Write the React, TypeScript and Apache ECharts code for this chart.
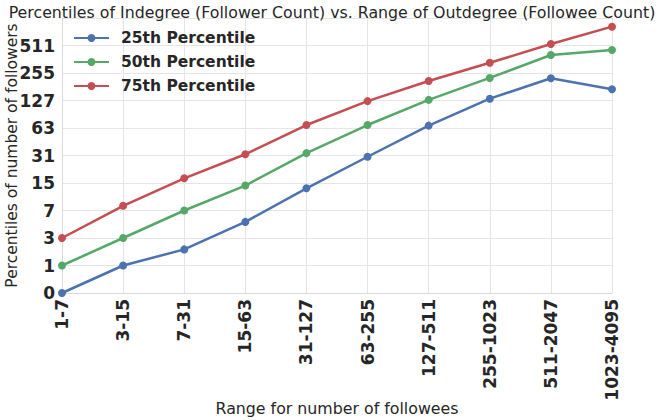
import React, { useEffect, useRef } from "react";
import * as echarts from "echarts";

const categories = ["1-7", "3-15", "7-31", "15-63", "31-127", "63-255", "127-511", "255-1023", "511-2047", "1023-4095"];
const p25 = [0, 1, 2, 5, 13, 30, 67, 133, 223, 169];
const p50 = [1, 3, 7, 14, 33, 68, 129, 225, 402, 457];
const p75 = [3, 8, 17, 32, 68, 125, 208, 330, 530, 822];
const seriesNames = ["25th Percentile", "50th Percentile", "75th Percentile"];
const colors = ["#4C72B0", "#55A868", "#C44E52"];

const toLog = (arr: number[]) => arr.map((v) => Math.log2(v + 1));

export default function App() {
  const ref = useRef<HTMLDivElement>(null);
  useEffect(() => {
    const chart = echarts.init(ref.current!, undefined, { renderer: "svg" });
    const font = "DejaVu Sans";
    chart.setOption({
      animation: false,
      textStyle: { fontFamily: font },
      title: {
        text: "Percentiles of Indegree (Follower Count) vs. Range of Outdegree (Followee Count)",
        left: "center",
        top: -1,
        textStyle: { fontFamily: font, fontSize: 15.8, fontWeight: "normal", color: "#262626" },
      },
      grid: { left: 62, right: 52, top: 18, bottom: 127, containLabel: false, outerBoundsMode: "none" },
      legend: {
        orient: "vertical",
        left: 63,
        top: 24,
        itemWidth: 35,
        itemHeight: 10,
        itemGap: 8,
        padding: [6, 18, 6, 10],
        textStyle: { fontFamily: font, fontSize: 15.5, fontWeight: "bold", color: "#262626", padding: [0, 0, 0, 7] },
        data: seriesNames,
      },
      xAxis: {
        type: "category",
        data: categories,
        boundaryGap: false,
        name: "Range for number of followees",
        nameLocation: "middle",
        nameMoveOverlap: false,
        nameGap: 107,
        nameTextStyle: { fontFamily: font, fontSize: 15.8, color: "#262626" },
        axisLine: { show: true, lineStyle: { color: "#d9d9d9", width: 1 } },
        axisTick: { show: false },
        axisLabel: {
          rotate: 90,
          interval: 0,
          fontFamily: font,
          fontSize: 17,
          fontWeight: "bold",
          color: "#262626",
          margin: 6,
        },
        splitLine: { show: true, lineStyle: { color: "#e5e5e5", width: 1 } },
      },
      yAxis: {
        type: "value",
        min: 0,
        max: 10,
        interval: 1,
        name: "Percentiles of number of followers",
        nameLocation: "middle",
        nameMoveOverlap: false,
        nameGap: 42,
        nameTextStyle: { fontFamily: font, fontSize: 15.5, color: "#262626" },
        axisLine: { show: true, lineStyle: { color: "#d9d9d9", width: 1 } },
        axisTick: { show: false },
        axisLabel: {
          fontFamily: font,
          fontSize: 17,
          fontWeight: "bold",
          color: "#262626",
          margin: 7,
          formatter: (v: number) => (v >= 10 ? "" : String(Math.round(Math.pow(2, v) - 1))),
        },
        splitLine: { show: true, lineStyle: { color: "#e5e5e5", width: 1 } },
      },
      series: [p25, p50, p75].map((arr, i) => ({
        name: seriesNames[i],
        type: "line",
        data: toLog(arr),
        color: colors[i],
        symbol: "circle",
        symbolSize: 8,
        lineStyle: { width: 2.5, color: colors[i] },
        itemStyle: { color: colors[i] },
        z: 3,
      })),
    });
    return () => chart.dispose();
  }, []);
  return <div ref={ref} style={{ width: 664, height: 420, position: "absolute", left: 0, top: 0 }} />;
}
